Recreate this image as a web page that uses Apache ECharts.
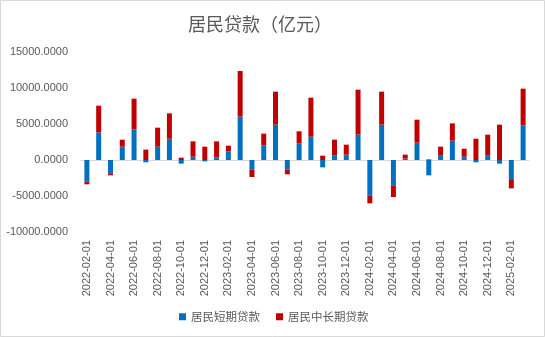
<!DOCTYPE html>
<html><head><meta charset="utf-8">
<script src="https://cdn.jsdelivr.net/npm/echarts@6/dist/echarts.min.js"></script>
<style>html,body{margin:0;padding:0;background:#fff}#c{width:545px;height:337px}</style>
</head><body><div id="c"></div>
<script>
const categories = ["2022-02-01","2022-03-01","2022-04-01","2022-05-01","2022-06-01","2022-07-01","2022-08-01","2022-09-01","2022-10-01","2022-11-01","2022-12-01",
"2023-01-01","2023-02-01","2023-03-01","2023-04-01","2023-05-01","2023-06-01","2023-07-01","2023-08-01","2023-09-01","2023-10-01","2023-11-01","2023-12-01",
"2024-01-01","2024-02-01","2024-03-01","2024-04-01","2024-05-01","2024-06-01","2024-07-01","2024-08-01","2024-09-01","2024-10-01","2024-11-01","2024-12-01",
"2025-01-01","2025-02-01","2025-03-01"];
const shortLoans = [-3010,3840,-1850,1850,4260,-320,1850,2960,-510,460,-190,370,1200,6020,-1340,2040,4910,-1340,2320,3240,-1020,650,740,3520,-4910,4910,-3520,190,2410,-2130,600,2690,460,-320,600,-510,-2780,4820];
const longLoans = [-370,3700,-280,970,4260,1440,2640,3520,320,2130,1850,2220,790,6340,-1020,1620,4580,-650,1670,5420,600,2180,1390,6250,-1110,4580,-1620,560,3190,80,1250,2400,1110,2960,2920,4910,-1160,5090];
const yTicks = {min:-10000, max:15000, interval:5000};

const chart = echarts.init(document.getElementById('c'), null, {renderer:'canvas'});
const txt = '#595959';
const ff = '"Liberation Sans", "Noto Sans CJK SC", sans-serif';
chart.setOption({
  animation:false,
  graphic:[{type:'rect', shape:{x:0.5,y:0.5,width:544,height:336}, style:{fill:'none', stroke:'#d9d9d9', lineWidth:1}, z:-1}],
  title:{text:'居民贷款（亿元）', left:183, top:10, textStyle:{fontSize:18, fontWeight:'normal', color:txt, fontFamily:'"Noto Sans CJK SC", sans-serif'}},
  legend:{left:174, top:306, itemWidth:7, itemHeight:7, itemGap:16, icon:'rect',
    textStyle:{fontSize:11.5, color:txt, fontFamily:'"Noto Sans CJK SC", sans-serif'},
    data:['居民短期贷款','居民中长期贷款']},
  grid:{left:81, right:16, top:52, bottom:105},
  xAxis:[{type:'category', data:categories, position:'bottom',
    axisLine:{show:false, onZero:false}, axisTick:{show:false},
    axisLabel:{interval:1, rotate:90, margin:8, fontSize:11, color:txt, fontFamily:ff}},
    {type:'category', data:categories, position:'bottom',
    axisLine:{show:true, onZero:true, lineStyle:{color:'#d9d9d9', width:1}}, axisTick:{show:false}, axisLabel:{show:false}}],
  yAxis:{type:'value', min:yTicks.min, max:yTicks.max, interval:yTicks.interval,
    splitLine:{show:false}, axisLine:{show:false}, axisTick:{show:false},
    axisLabel:{margin:13, fontSize:11, color:txt, fontFamily:ff, formatter:v=>v.toFixed(4)}},
  series:[
    {name:'居民短期贷款', type:'bar', stack:'a', barWidth:5, data:shortLoans, itemStyle:{color:'#0070C0'}},
    {name:'居民中长期贷款', type:'bar', stack:'a', barWidth:5, data:longLoans, itemStyle:{color:'#C00000'}}
  ]
});
</script></body></html>
